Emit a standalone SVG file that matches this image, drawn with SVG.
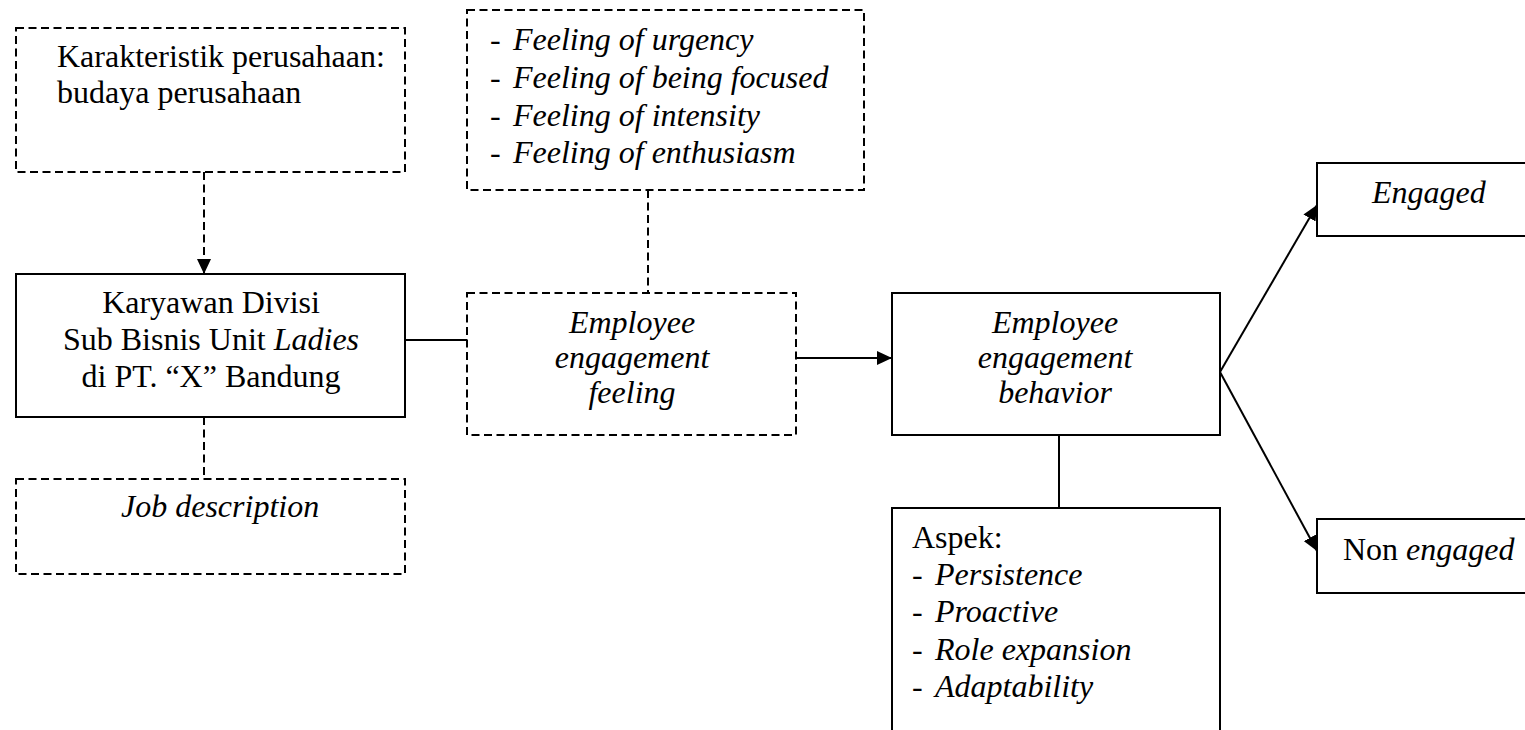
<svg xmlns="http://www.w3.org/2000/svg" width="1525" height="730" viewBox="0 0 1525 730">
<defs>
<style>
.t{font-family:"Liberation Serif","Times New Roman",serif;font-size:32px;fill:#000}
.i{font-style:italic}
.c{text-anchor:middle}
.solid{fill:#fff;stroke:#000;stroke-width:2}
.dash{fill:#fff;stroke:#000;stroke-width:2;stroke-dasharray:8 4.5}
.ln{fill:none;stroke:#000;stroke-width:2}
.dl{fill:none;stroke:#000;stroke-width:2;stroke-dasharray:8 4.5}
</style>
<marker id="ah" viewBox="0 0 15 14" refX="15" refY="7" markerWidth="15" markerHeight="14" markerUnits="userSpaceOnUse" orient="auto">
<path d="M0,0 L15,7 L0,14 z" fill="#000"/>
</marker>
</defs>
<rect width="1525" height="730" fill="#fff"/>
<g id="connectors">
<line class="dl" x1="204" y1="172" x2="204" y2="274" marker-end="url(#ah)"/>
<line class="dl" x1="204" y1="417" x2="204" y2="479"/>
<line class="ln" x1="405" y1="340" x2="467" y2="340"/>
<line class="dl" x1="648" y1="190" x2="648" y2="293"/>
<line class="ln" x1="796" y1="358" x2="892" y2="358" stroke-width="2.6" marker-end="url(#ah)"/>
<line class="ln" x1="1059" y1="435" x2="1059" y2="508"/>
<line class="ln" x1="1220" y1="372" x2="1317" y2="205" marker-end="url(#ah)"/>
<line class="ln" x1="1220" y1="372" x2="1317" y2="551" marker-end="url(#ah)"/>
</g>
<g id="n-karakteristik">
<rect class="dash" x="16" y="28" width="389" height="144"/>
<text class="t" x="57" y="67">Karakteristik perusahaan:</text>
<text class="t" x="57" y="103">budaya perusahaan</text>
</g>
<g id="n-karyawan">
<rect class="solid" x="16" y="274" width="389" height="143"/>
<text class="t c" x="211" y="313">Karyawan Divisi</text>
<text class="t c" x="211" y="350">Sub Bisnis Unit <tspan class="i">Ladies</tspan></text>
<text class="t c" x="211" y="387">di PT. “X” Bandung</text>
</g>
<g id="n-job">
<rect class="dash" x="16" y="479" width="389" height="95"/>
<text class="t i" x="121" y="517">Job description</text>
</g>
<g id="n-feelings">
<rect class="dash" x="467" y="10" width="397" height="180"/>
<text class="t" x="490" y="50">- <tspan class="i" x="513">Feeling of urgency</tspan></text>
<text class="t" x="490" y="88">- <tspan class="i" x="513">Feeling of being focused</tspan></text>
<text class="t" x="490" y="126">- <tspan class="i" x="513">Feeling of intensity</tspan></text>
<text class="t" x="490" y="163">- <tspan class="i" x="513">Feeling of enthusiasm</tspan></text>
</g>
<g id="n-feeling">
<rect class="dash" x="467" y="293" width="329" height="142"/>
<text class="t i c" x="632" y="333">Employee</text>
<text class="t i c" x="632" y="368">engagement</text>
<text class="t i c" x="632" y="403">feeling</text>
</g>
<g id="n-behavior">
<rect class="solid" x="892" y="293" width="328" height="142"/>
<text class="t i c" x="1055" y="333">Employee</text>
<text class="t i c" x="1055" y="368">engagement</text>
<text class="t i c" x="1055" y="403">behavior</text>
</g>
<g id="n-aspek">
<rect class="solid" x="892" y="508" width="328" height="240"/>
<text class="t" x="912" y="548">Aspek:</text>
<text class="t" x="912" y="585">- <tspan class="i" x="935">Persistence</tspan></text>
<text class="t" x="912" y="622">- <tspan class="i" x="935">Proactive</tspan></text>
<text class="t" x="912" y="660">- <tspan class="i" x="935">Role expansion</tspan></text>
<text class="t" x="912" y="697">- <tspan class="i" x="935">Adaptability</tspan></text>
</g>
<g id="n-engaged">
<rect class="solid" x="1317" y="163" width="220" height="73"/>
<text class="t i" x="1372" y="203">Engaged</text>
</g>
<g id="n-nonengaged">
<rect class="solid" x="1317" y="519" width="220" height="74"/>
<text class="t" x="1343" y="560">Non <tspan class="i">engaged</tspan></text>
</g>
</svg>
